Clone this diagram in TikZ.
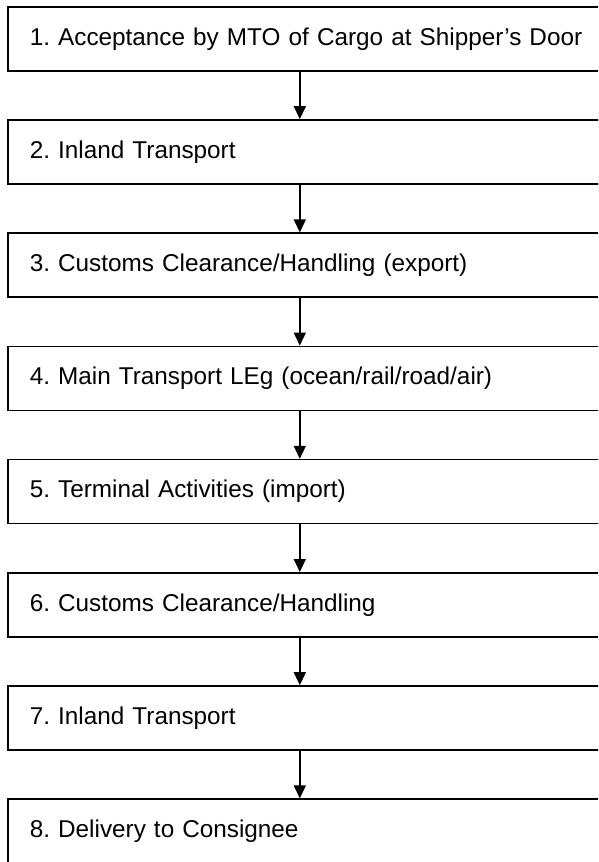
\documentclass[tikz,border=0pt]{standalone}
\usepackage{fontspec}
\setmainfont{Liberation Sans}
\usetikzlibrary{positioning,arrows.meta}
\frenchspacing

\begin{document}
\begin{tikzpicture}[x=1pt,y=1pt,
	box/.style={draw, rectangle, line width=1.6pt, text width=570pt, inner xsep=22pt,
		minimum height=64pt, align=left, font=\fontsize{24.3}{29}\selectfont},
	flow/.style={-{Triangle[length=13pt,width=12pt]}, line width=1.5pt},
	node distance=47.6pt]

	\useasboundingbox (0,0) rectangle (598,-862);
	\clip (0,0) rectangle (598,-862);

	\node [box, anchor=north west] (a) at (7,-6) {1. Acceptance by MTO of Cargo at Shipper’s Door};
	\node [box, below=of a] (b) {2. Inland Transport};
	\node [box, below=of b] (c) {3. Customs Clearance/Handling (export)};
	\node [box, below=of c] (d) {4. Main Transport LEg (ocean/rail/road/air)};
	\node [box, below=of d] (e) {5. Terminal Activities (import)};
	\node [box, below=of e] (f) {6. Customs Clearance/Handling};
	\node [box, below=of f] (g) {7. Inland Transport};
	\node [box, below=of g] (h) {8. Delivery to Consignee};

	\draw [flow] ([xshift=-15pt]a.south) -- ([xshift=-15pt]b.north);
	\draw [flow] ([xshift=-15pt]b.south) -- ([xshift=-15pt]c.north);
	\draw [flow] ([xshift=-15pt]c.south) -- ([xshift=-15pt]d.north);
	\draw [flow] ([xshift=-15pt]d.south) -- ([xshift=-15pt]e.north);
	\draw [flow] ([xshift=-15pt]e.south) -- ([xshift=-15pt]f.north);
	\draw [flow] ([xshift=-15pt]f.south) -- ([xshift=-15pt]g.north);
	\draw [flow] ([xshift=-15pt]g.south) -- ([xshift=-15pt]h.north);

\end{tikzpicture}
\end{document}
